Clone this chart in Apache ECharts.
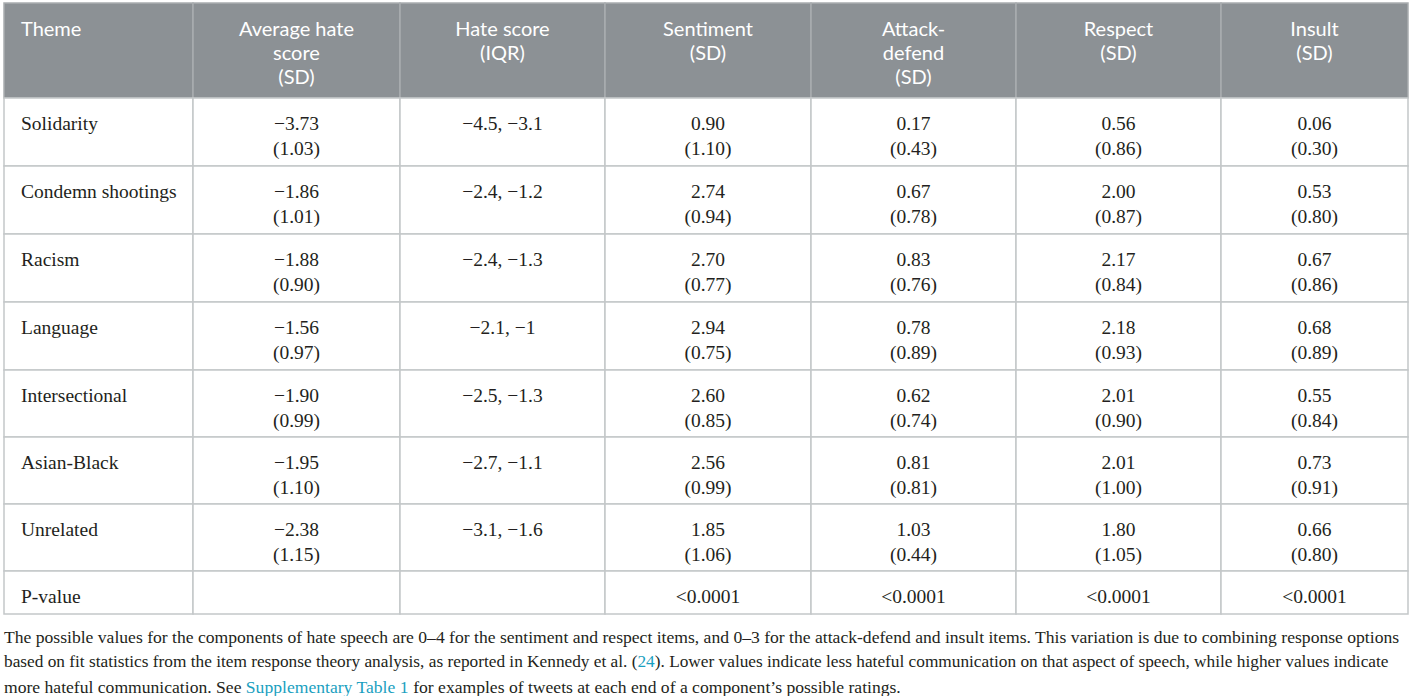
<!DOCTYPE html>
<html>
<head>
<meta charset="utf-8">
<script src="https://cdn.jsdelivr.net/npm/echarts@6/dist/echarts.min.js"></script>
<style>
html,body{margin:0;padding:0;background:#fff;}
#chart{width:1411px;height:696px;}
</style>
</head>
<body>
<div id="chart"></div>
<script>
// ---- Data ----
const headers = ['Theme', 'Average hate\nscore\n(SD)', 'Hate score\n(IQR)', 'Sentiment\n(SD)', 'Attack-\ndefend\n(SD)', 'Respect\n(SD)', 'Insult\n(SD)'];
const themes = ['Solidarity', 'Condemn shootings', 'Racism', 'Language', 'Intersectional', 'Asian-Black', 'Unrelated'];
const avgHate   = [-3.73, -1.86, -1.88, -1.56, -1.90, -1.95, -2.38];
const avgHateSD = [1.03, 1.01, 0.90, 0.97, 0.99, 1.10, 1.15];
const iqrLow    = [-4.5, -2.4, -2.4, -2.1, -2.5, -2.7, -3.1];
const iqrHigh   = [-3.1, -1.2, -1.3, -1, -1.3, -1.1, -1.6];
const sentiment   = [0.90, 2.74, 2.70, 2.94, 2.60, 2.56, 1.85];
const sentimentSD = [1.10, 0.94, 0.77, 0.75, 0.85, 0.99, 1.06];
const attack    = [0.17, 0.67, 0.83, 0.78, 0.62, 0.81, 1.03];
const attackSD  = [0.43, 0.78, 0.76, 0.89, 0.74, 0.81, 0.44];
const respect   = [0.56, 2.00, 2.17, 2.18, 2.01, 2.01, 1.80];
const respectSD = [0.86, 0.87, 0.84, 0.93, 0.90, 1.00, 1.05];
const insult    = [0.06, 0.53, 0.67, 0.68, 0.55, 0.73, 0.66];
const insultSD  = [0.30, 0.80, 0.86, 0.89, 0.84, 0.91, 0.80];
const pLabel = 'P-value';
const pValues = ['', '', '<0.0001', '<0.0001', '<0.0001', '<0.0001'];
const footnote =
  '{a|The possible values for the components of hate speech are 0–4 for the sentiment and respect items, and 0–3 for the attack-defend and insult items. This variation is due to combining response options}\n' +
  '{b|based on fit statistics from the item response theory analysis, as reported in Kennedy et al. (}{linkB|24}{b|). Lower values indicate less hateful communication on that aspect of speech, while higher values indicate}\n' +
  '{a|more hateful communication. See }{linkA|Supplementary Table 1}{a| for examples of tweets at each end of a component\u2019s possible ratings.}';

// ---- Layout (sizes only) ----
const colWidths = [189, 207, 205, 206, 205, 205, 187];
const rowHeights = [95, 68, 68, 68, 68, 67, 67, 67, 43];
const colEdges = [0]; colWidths.forEach(w => colEdges.push(colEdges[colEdges.length - 1] + w));
const rowEdges = [0]; rowHeights.forEach(h => rowEdges.push(rowEdges[rowEdges.length - 1] + h));

const fmt2 = v => v.toFixed(2).replace('-', '\u2212');
const fmt = v => String(v).replace(/-/g, '\u2212');

function cellLines(c, r) {
  if (r === 0) return headers[c];
  if (r === 8) return c === 0 ? pLabel : pValues[c - 1];
  const i = r - 1;
  switch (c) {
    case 0: return themes[i];
    case 1: return fmt2(avgHate[i]) + '\n(' + fmt2(avgHateSD[i]) + ')';
    case 2: return fmt(iqrLow[i]) + ', ' + fmt(iqrHigh[i]);
    case 3: return fmt2(sentiment[i]) + '\n(' + fmt2(sentimentSD[i]) + ')';
    case 4: return fmt2(attack[i]) + '\n(' + fmt2(attackSD[i]) + ')';
    case 5: return fmt2(respect[i]) + '\n(' + fmt2(respectSD[i]) + ')';
    case 6: return fmt2(insult[i]) + '\n(' + fmt2(insultSD[i]) + ')';
  }
  return '';
}

const cells = [];
for (let r = 0; r < rowHeights.length; r++) {
  for (let c = 0; c < colWidths.length; c++) cells.push([c, r]);
}

const serif = 'Liberation Serif';
const txt = '#231f20', link = '#1a9fbf';
const chart = echarts.init(document.getElementById('chart'), null, { renderer: 'svg' });
chart.setOption({
  animation: false,
  backgroundColor: '#ffffff',
  title: {
    text: footnote,
    left: 4,
    top: 624,
    padding: 0,
    textStyle: {
      fontFamily: serif,
      fontSize: 17.6,
      fontWeight: 'normal',
      color: txt,
      lineHeight: 25,
      rich: {
        a: { fontFamily: serif, fontSize: 17.6, color: txt, lineHeight: 25 },
        b: { fontFamily: serif, fontSize: 17.3, color: txt, lineHeight: 25 },
        linkA: { fontFamily: serif, fontSize: 17.6, color: link, lineHeight: 25 },
        linkB: { fontFamily: serif, fontSize: 17.3, color: link, lineHeight: 25 }
      }
    }
  },
  grid: { left: 4, right: 3, top: 3, bottom: 82 },
  xAxis: { type: 'value', min: 0, max: colEdges[colEdges.length - 1], show: false },
  yAxis: { type: 'value', min: 0, max: rowEdges[rowEdges.length - 1], inverse: true, show: false },
  series: [{
    type: 'custom',
    clip: false,
    data: cells,
    renderItem: function (params, api) {
      const c = api.value(0), r = api.value(1);
      const p0 = api.coord([colEdges[c], rowEdges[r]]);
      const p1 = api.coord([colEdges[c + 1], rowEdges[r + 1]]);
      const x = p0[0], y = p0[1], w = p1[0] - p0[0], h = p1[1] - p0[1];
      const header = r === 0;
      const lh = header ? 24 : 25;
      return {
        type: 'group',
        children: [
          {
            type: 'rect',
            shape: { x: x, y: y, width: w, height: h },
            style: header
              ? { fill: '#8c9195', stroke: '#a9adb0', lineWidth: 1.5 }
              : { fill: '#ffffff', stroke: '#c4c7c9', lineWidth: 1.5 }
          },
          {
            type: 'text',
            style: {
              x: c === 0 ? x + 17 : x + w / 2,
              y: y + 25 - lh / 2,
              text: cellLines(c, r),
              align: c === 0 ? 'left' : 'center',
              verticalAlign: 'top',
              lineHeight: lh,
              fontFamily: header ? 'Lato' : serif,
              fontSize: header ? 20 : 19.5,
              fill: header ? '#ffffff' : txt
            }
          }
        ]
      };
    }
  }]
});
</script>
</body>
</html>
